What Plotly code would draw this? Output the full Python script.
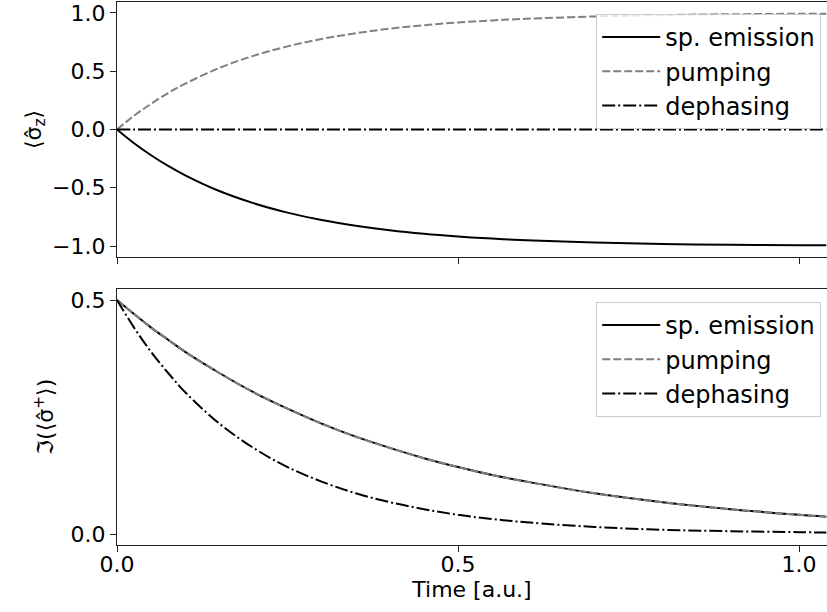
import plotly.graph_objects as go

# time samples
t = [0, 0.025, 0.05, 0.075, 0.1, 0.15, 0.2, 0.25, 0.3, 0.35, 0.4, 0.45,
     0.5, 0.55, 0.6, 0.7, 0.8, 0.9, 1.0, 1.04]

# <sigma_z>
sz_emission = [0, -0.118, -0.221, -0.313, -0.393, -0.528, -0.632, -0.713, -0.777, -0.826,
               -0.865, -0.895, -0.918, -0.936, -0.950, -0.970, -0.982, -0.989, -0.993, -0.994]
sz_pumping = [0, 0.118, 0.221, 0.313, 0.393, 0.528, 0.632, 0.713, 0.777, 0.826,
              0.865, 0.895, 0.918, 0.936, 0.950, 0.970, 0.982, 0.989, 0.993, 0.994]
sz_dephasing = [0] * 20

# Im(<sigma^+>)
sp_emission = [0.5, 0.470, 0.441, 0.415, 0.389, 0.344, 0.303, 0.268, 0.236, 0.208,
               0.184, 0.162, 0.143, 0.126, 0.112, 0.087, 0.068, 0.053, 0.041, 0.037]
sp_pumping = [0.5, 0.470, 0.441, 0.415, 0.389, 0.344, 0.303, 0.268, 0.236, 0.208,
              0.184, 0.162, 0.143, 0.126, 0.112, 0.087, 0.068, 0.053, 0.041, 0.037]
sp_dephasing = [0.5, 0.441, 0.389, 0.344, 0.303, 0.236, 0.184, 0.143, 0.112, 0.087,
                0.068, 0.053, 0.041, 0.032, 0.025, 0.015, 0.009, 0.006, 0.004, 0.003]

labels = ["sp. emission", "pumping", "dephasing"]
colors = ["black", "#808080", "black"]
dashes = ["solid", "8px,3px", "13px,3px,2px,3px"]

W, H = 827, 612
FONT = "DejaVu Sans"
TICKSIZE = 22
LEGSIZE = 24

fig = go.Figure()

top = [sz_emission, sz_pumping, sz_dephasing]
bot = [sp_emission, sp_pumping, sp_dephasing]
for i in range(3):
    fig.add_trace(go.Scatter(x=t, y=top[i], mode="lines", name=labels[i],
                             line=dict(color=colors[i], width=2, dash=dashes[i], shape="spline"),
                             xaxis="x", yaxis="y", legend="legend"))
for i in range(3):
    fig.add_trace(go.Scatter(x=t, y=bot[i], mode="lines", name=labels[i],
                             line=dict(color=colors[i], width=2, dash=dashes[i], shape="spline"),
                             xaxis="x2", yaxis="y2", legend="legend2"))

x0 = 117 / W
axcommon = dict(showline=True, linecolor="#222", linewidth=1.2, mirror=True,
                ticks="outside", ticklen=6, tickwidth=1.2, tickcolor="#222",
                showgrid=False, zeroline=False, automargin=False,
                tickfont=dict(family=FONT, size=TICKSIZE, color="black"))

legcommon = dict(bgcolor="rgba(255,255,255,0.8)", bordercolor="#cccccc", borderwidth=1,
                 font=dict(family=FONT, size=LEGSIZE, color="black"),
                 xanchor="right", yanchor="top", x=0.993, itemwidth=58,
                 tracegroupgap=0)

fig.update_layout(
    width=W, height=H,
    margin=dict(l=0, r=0, t=0, b=0),
    paper_bgcolor="white", plot_bgcolor="white",
    font=dict(family=FONT, size=TICKSIZE, color="black"),
    xaxis=dict(domain=[x0, 1.0], range=[0, 1.041], anchor="y", matches="x2",
               tickvals=[0, 0.5, 1.0], showticklabels=False, **axcommon),
    yaxis=dict(domain=[(H - 257) / H, (H - 2) / H], range=[-1.094, 1.094], anchor="x",
               tickvals=[-1, -0.5, 0, 0.5, 1], tickformat=".1f",
               title=dict(text="⟨σ̂<sub>z</sub>⟩", font=dict(family=FONT, size=TICKSIZE), standoff=4),
               **axcommon),
    xaxis2=dict(domain=[x0, 1.0], range=[0, 1.041], anchor="y2",
                tickvals=[0, 0.5, 1.0], tickformat=".1f", ticklabelstandoff=-7,
                title=dict(text="Time [a.u.]", font=dict(family=FONT, size=TICKSIZE), standoff=6),
                **axcommon),
    yaxis2=dict(domain=[(H - 545) / H, (H - 289) / H], range=[-0.0235, 0.5235], anchor="x2",
                tickvals=[0, 0.5], tickformat=".1f",
                title=dict(text="ℑ(⟨σ̂<sup>+</sup>⟩)", font=dict(family=FONT, size=TICKSIZE), standoff=10),
                **axcommon),
    legend=dict(y=(H - 14) / H, **legcommon),
    legend2=dict(y=(H - 302) / H, **legcommon),
)

fig.write_html("out.html")
